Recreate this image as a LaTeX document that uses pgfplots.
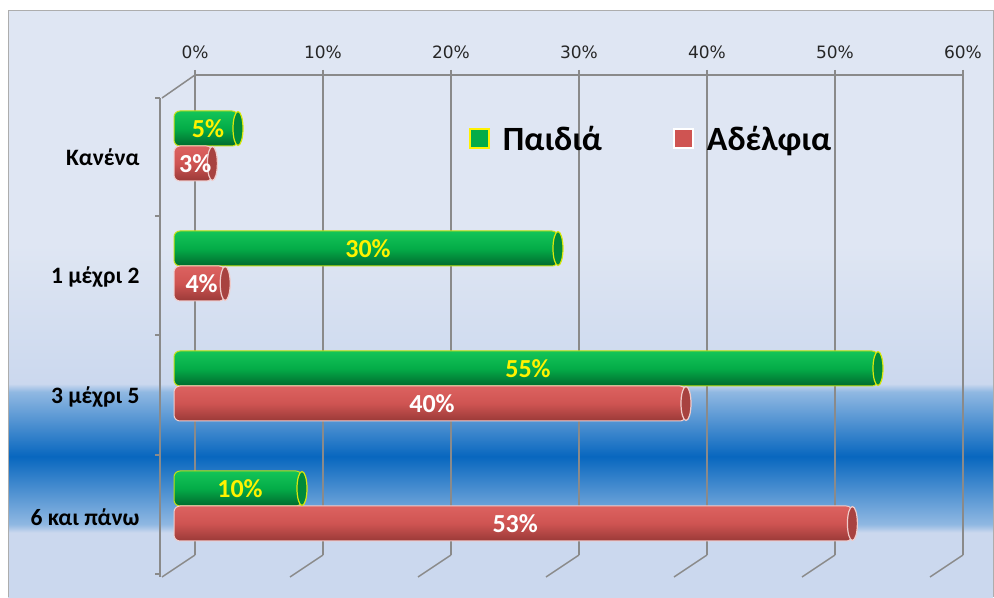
\documentclass[border=0pt]{standalone}
\usepackage{pgfplots}
\pgfplotsset{compat=1.18}
\usepackage{fontspec}
\setmainfont{Carlito}
\newfontfamily\dejavu{DejaVu Sans}
\definecolor{gtop}{HTML}{14C458}
\definecolor{gmid}{HTML}{04AC48}
\definecolor{gbot}{HTML}{006A2E}
\definecolor{gcapc}{HTML}{008A3A}
\definecolor{rtop}{HTML}{DC6260}
\definecolor{rmid}{HTML}{CF5452}
\definecolor{rbot}{HTML}{9A3A38}
\definecolor{rcapc}{HTML}{A84240}
\definecolor{bglight}{HTML}{DFE6F3}
\definecolor{bgmid}{HTML}{CBD8EE}
\definecolor{bgband}{HTML}{90B8E2}
\definecolor{bgdark}{HTML}{0867BF}
\definecolor{gridc}{HTML}{8A8A8A}
% positions: 25bp = bottom of path, 75bp = top of path
\pgfdeclareverticalshading{bgshade}{100bp}{%
  color(0bp)=(bgmid); color(25bp)=(bgmid); color(30.5bp)=(bgmid); color(31.2bp)=(bgband);
  color(37bp)=(bgdark); color(42.5bp)=(bgband); color(43.2bp)=(bgmid);
  color(55bp)=(bglight); color(75bp)=(bglight); color(100bp)=(bglight)}
\pgfdeclareplotmark{cyl}{%
  \pgfpathellipse{\pgfpointorigin}{\pgfqpoint{5pt}{0pt}}{\pgfqpoint{0pt}{17pt}}%
  \pgfusepathqfillstroke}
\pgfplotsset{
  gbar/.style={xbar, bar shift=17.5pt, forget plot,
    top color=gtop, bottom color=gbot, middle color=gmid,
    draw=yellow!75!green, line width=1pt, rounded corners=6pt,
    mark=cyl, mark options={fill=gcapc, draw=yellow!85!green, line width=1.2pt, yshift=17.5pt, sharp corners},
    point meta=x,
    nodes near coords={\pgfmathprintnumber[assume math mode=true]{\pgfplotspointmeta}\%},
    every node near coord/.append style={anchor=center, xshift={-\rawx*6.4pt+2pt}, text=yellow,
      font=\bfseries\fontsize{26}{28}\selectfont}},
  rbar/.style={xbar, bar shift=-17.5pt, forget plot,
    top color=rtop, bottom color=rbot, middle color=rmid,
    draw=white!70!rmid, line width=1pt, rounded corners=6pt,
    mark=cyl, mark options={fill=rcapc, draw=white!70!rmid, line width=1.2pt, yshift=-17.5pt, sharp corners},
    point meta=x,
    nodes near coords={\pgfmathprintnumber[assume math mode=true]{\pgfplotspointmeta}\%},
    every node near coord/.append style={anchor=center, xshift={-\rawx*6.4pt+2pt}, text=white,
      font=\bfseries\fontsize{26}{28}\selectfont}},
}
\begin{document}
\begin{tikzpicture}
\fill[white] (0pt,0pt) rectangle (994pt,597pt);
\shade[shading=bgshade] (8pt,0pt) rectangle (993pt,586pt);
\draw[gridc!70, line width=1pt] (8pt,0pt)--(8pt,586pt)--(993pt,586pt)--(993pt,0pt);
% back wall axis
\begin{axis}[
  at={(195pt,42pt)}, anchor=south west, scale only axis,
  width=768pt, height=480pt,
  xmin=0, xmax=60, ymin=0, ymax=1,
  axis x line*=top, axis y line=none,
  axis line style={gridc, line width=1.5pt},
  xtick={0,10,...,60},
  xticklabels={0\%,10\%,20\%,30\%,40\%,50\%,60\%},
  xticklabel style={font=\dejavu\fontsize{17}{20}\selectfont, text=black!85, yshift=8pt},
  tick align=outside, major tick length=5pt,
  tick style={gridc, line width=1.5pt},
  xmajorgrids, grid style={gridc, line width=1.8pt},
  ytick=\empty,
]
\addplot[draw=none] coordinates {(0,0)};
\end{axis}
% side and floor chrome
\draw[gridc, line width=1.5pt] (195pt,522pt)--(162pt,499pt);
\draw[gridc, line width=1.5pt] (160pt,499pt)--(160pt,20pt);
\foreach \yy in {499,381,262,142,23} {\draw[gridc, line width=1.5pt] (155pt,\yy pt)--(160pt,\yy pt);}
\foreach \k in {0,...,6} {\draw[gridc, line width=1.5pt] (195pt+128pt*\k,42pt)--(162pt+128pt*\k,20pt);}
% bars axis
\begin{axis}[
  at={(174pt,31pt)}, anchor=south west, scale only axis,
  width=768pt, height=480pt,
  xmin=0, xmax=60, ymin=-0.5, ymax=3.5,
  axis line style={draw=none},
  xtick=\empty,
  ytick={0,1,2,3},
  yticklabels={6 και πάνω,3 μέχρι 5,1 μέχρι 2,Κανένα},
  yticklabel style={font=\bfseries\fontsize{23.5}{26}\selectfont, anchor=east, xshift=-31pt, yshift=-11.5pt},
  major tick length=0pt,
  bar width=35pt,
  clip=false,
  visualization depends on={rawx \as \rawx},
  legend style={at={(0.38,0.925)}, anchor=north west, draw=none, fill=none,
    font=\bfseries\fontsize{34}{38}\selectfont, legend columns=2,
    /tikz/every even column/.append style={column sep=69pt}},
]
% Παιδιά
\addplot[gbar] coordinates {(5,3)};
\addplot[gbar] coordinates {(30,2)};
\addplot[gbar] coordinates {(55,1)};
\addplot[gbar] coordinates {(10,0)};
% Αδέλφια
\addplot[rbar] coordinates {(3,3)};
\addplot[rbar] coordinates {(4,2)};
\addplot[rbar] coordinates {(40,1)};
\addplot[rbar] coordinates {(53,0)};
\addlegendimage{legend image code/.code={\draw[fill=gmid, draw=yellow, line width=1.5pt] (0pt,-9pt) rectangle (19pt,10pt); \path (31pt,0pt);}}
\addlegendentry{Παιδιά}
\addlegendimage{legend image code/.code={\draw[fill=rmid, draw=white, line width=1.5pt] (0pt,-9pt) rectangle (19pt,10pt); \path (31pt,0pt);}}
\addlegendentry{Αδέλφια}
\end{axis}
\end{tikzpicture}
\end{document}
